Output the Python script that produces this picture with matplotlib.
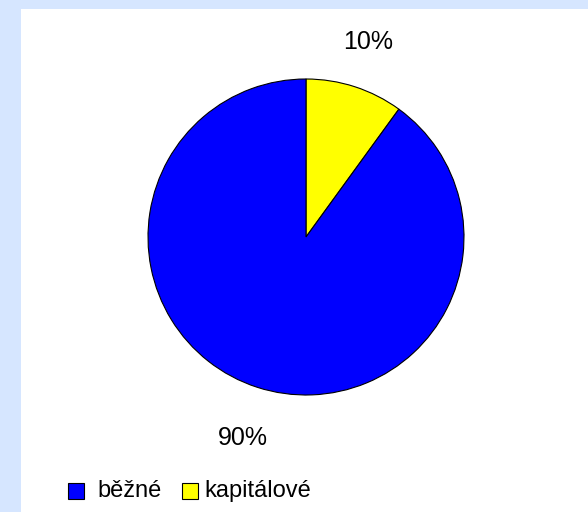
import matplotlib
matplotlib.use("Agg")
import matplotlib.pyplot as plt
from matplotlib.patches import Rectangle

categories = ["běžné", "kapitálové"]
values = [90, 10]
labels = ["90%", "10%"]
colors = ["#0000FF", "#FFFF00"]

W, H = 588, 512
fig = plt.figure(figsize=(W/100, H/100), dpi=100)
fig.patch.set_facecolor("#D6E6FF")
plt.rcParams['font.family'] = ['Liberation Sans', 'DejaVu Sans']

# white inner panel
fig.add_artist(Rectangle((21/W, 0), 1-21/W, 1-9/H, transform=fig.transFigure,
                         facecolor="white", edgecolor="none", zorder=0))

cx, cy, r = 306, 237, 158
ax = fig.add_axes([(cx-r)/W, 1-(cy+r)/H, 2*r/W, 2*r/H])
ax.set_facecolor("none")
# draw clockwise from top: kapitálové first, then běžné
wedges, _ = ax.pie(values[::-1], colors=colors[::-1], startangle=90, counterclock=False,
                   wedgeprops=dict(edgecolor="black", linewidth=0.8))
ax.set_xlim(-1, 1); ax.set_ylim(-1, 1)
ax.set_aspect("equal")
ax.axis("off")

fig.text(368/W, 1-42/H, labels[1], ha="center", va="center", fontsize=18)
fig.text(243/W, 1-438/H, labels[0], ha="center", va="center", fontsize=18)

# legend
ly = 491
for (x0, tx, lab, col) in [(68, 97, categories[0], colors[0]), (182, 204, categories[1], colors[1])]:
    fig.add_artist(Rectangle((x0/W, 1-(ly+8)/H), 16/W, 16/H, transform=fig.transFigure,
                             facecolor=col, edgecolor="black", linewidth=0.8))
    fig.text(tx/W, 1-ly/H, lab, ha="left", va="center", fontsize=17)

fig.savefig("out.png", dpi=100, facecolor=fig.get_facecolor())
